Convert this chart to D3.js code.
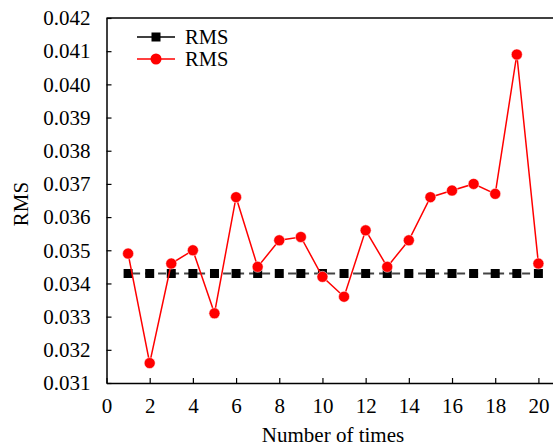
<!DOCTYPE html>
<html><head><meta charset="utf-8">
<script src="https://cdn.jsdelivr.net/npm/d3@7"></script>
</head><body style="margin:0;background:#fff"><svg id="c" width="553" height="447" font-family="Liberation Serif"></svg>
<script>
const xs = [1,2,3,4,5,6,7,8,9,10,11,12,13,14,15,16,17,18,19,20];
const blackVals = [0.0343,0.0343,0.0343,0.0343,0.0343,0.0343,0.0343,0.0343,0.0343,0.0343,0.0343,0.0343,0.0343,0.0343,0.0343,0.0343,0.0343,0.0343,0.0343,0.0343];
const redVals = [0.0349,0.0316,0.0346,0.0350,0.0331,0.0366,0.0345,0.0353,0.0354,0.0342,0.0336,0.0356,0.0345,0.0353,0.0366,0.0368,0.0370,0.0367,0.0409,0.0346];
const xTicks = [0,2,4,6,8,10,12,14,16,18,20];
const yTicks = [0.031,0.032,0.033,0.034,0.035,0.036,0.037,0.038,0.039,0.040,0.041,0.042];
const seriesNames = ["RMS","RMS"];
const FF = "Liberation Serif";

const svg = d3.select("#c");
const x = d3.scaleLinear().domain([0,21]).range([106.5,560]);
const y = d3.scaleLinear().domain([0.031,0.042]).range([383,18]);

svg.append("line").attr("x1",106.5).attr("x2",553).attr("y1",18).attr("y2",18).attr("stroke","#000").attr("stroke-width",1.5);

const gx = svg.append("g").attr("transform","translate(0,383)")
  .call(d3.axisBottom(x).tickValues(xTicks).tickSizeInner(-5).tickSizeOuter(0).tickPadding(11).tickFormat(d3.format("d")));
gx.attr("font-family",FF).attr("font-size",21);
gx.select(".domain").attr("stroke-width",1.5);
gx.selectAll(".tick line").attr("stroke-width",1.2);
gx.selectAll("text").attr("dy","0.9em");

const gy = svg.append("g").attr("transform","translate(106.5,0)")
  .call(d3.axisLeft(y).tickValues(yTicks).tickSizeInner(-5).tickSizeOuter(0).tickPadding(16).tickFormat(d3.format(".3f")));
gy.attr("font-family",FF).attr("font-size",21);
gy.select(".domain").attr("stroke-width",1.5);
gy.selectAll(".tick line").attr("stroke-width",1.2);

svg.append("text").attr("x",333).attr("y",442).attr("text-anchor","middle").attr("font-family",FF).attr("font-size",21).text("Number of times");
svg.append("text").attr("transform","translate(28,204) rotate(-90)").attr("text-anchor","middle").attr("font-family",FF).attr("font-size",21).text("RMS");

const line = d3.line().x((d,i)=>x(xs[i])).y(d=>y(d));
svg.append("path").datum(blackVals).attr("d",line).attr("fill","none").attr("stroke","#444").attr("stroke-width",2).attr("stroke-dasharray","8,5").attr("stroke-dashoffset",-4);
svg.selectAll(".sq").data(blackVals).enter().append("rect").attr("x",(d,i)=>x(xs[i])-4.5).attr("y",d=>y(d)-4.5).attr("width",9).attr("height",9).attr("fill","#000");

svg.append("path").datum(redVals).attr("d",line).attr("fill","none").attr("stroke","#ff0000").attr("stroke-width",1.5);
svg.selectAll(".ci").data(redVals).enter().append("circle").attr("cx",(d,i)=>x(xs[i])).attr("cy",d=>y(d)).attr("r",5.5).attr("fill","#ff0000").attr("stroke","#fff").attr("stroke-width",0.5);

const lg = svg.append("g");
lg.append("line").attr("x1",137).attr("x2",175).attr("y1",37).attr("y2",37).attr("stroke","#000").attr("stroke-width",1.5);
lg.append("rect").attr("x",151.5).attr("y",32.5).attr("width",9).attr("height",9).attr("fill","#000");
lg.append("text").attr("x",185).attr("y",44).attr("font-family",FF).attr("font-size",20.5).text(seriesNames[0]);
lg.append("line").attr("x1",137).attr("x2",175).attr("y1",59).attr("y2",59).attr("stroke","#ff0000").attr("stroke-width",1.5);
lg.append("circle").attr("cx",156).attr("cy",59).attr("r",5.5).attr("fill","#ff0000");
lg.append("text").attr("x",185).attr("y",66).attr("font-family",FF).attr("font-size",20.5).text(seriesNames[1]);
</script></body></html>
